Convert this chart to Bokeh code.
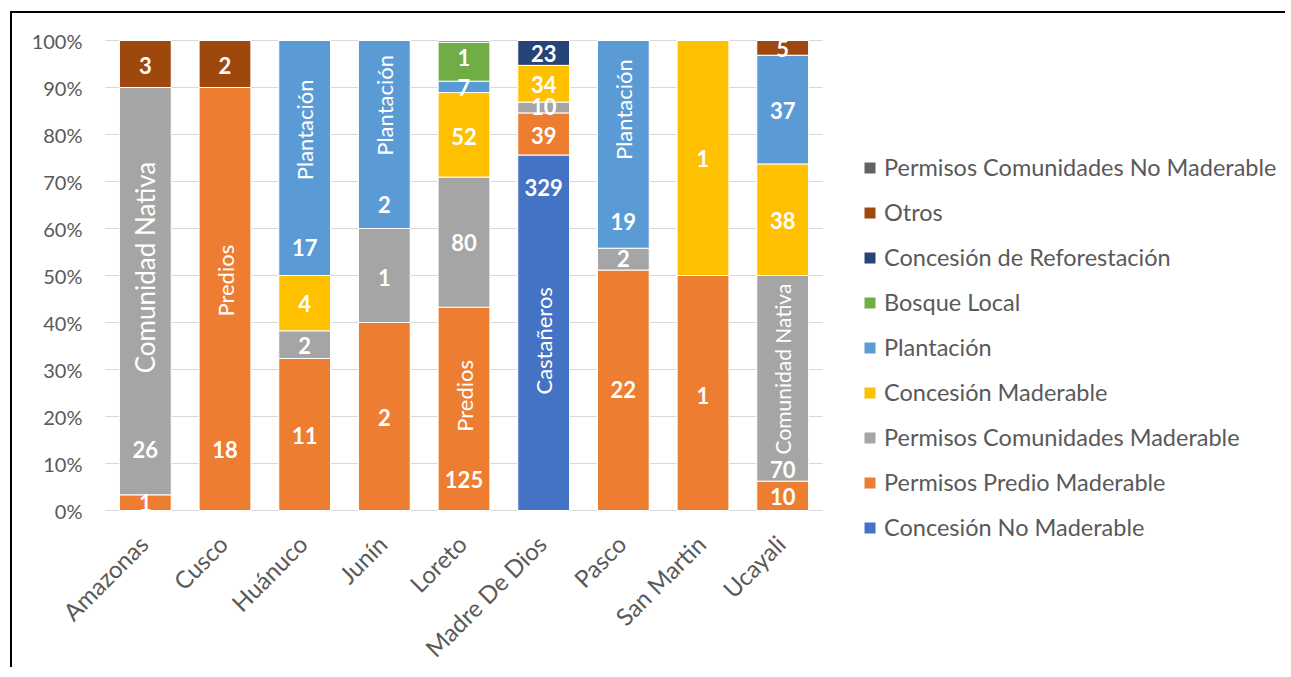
import math
from bokeh.plotting import figure
from bokeh.models import ColumnDataSource, Range1d, Legend, LegendItem
from bokeh.core.properties import value
from bokeh.embed import file_html
from bokeh.resources import INLINE

# ---------------- data ----------------
CATEGORIES = ["Amazonas", "Cusco", "Huánuco", "Junín", "Loreto",
              "Madre De Dios", "Pasco", "San Martin", "Ucayali"]

SERIES = ["Concesión No Maderable", "Permisos Predio Maderable",
          "Permisos Comunidades Maderable", "Concesión Maderable", "Plantación",
          "Bosque Local", "Concesión de Reforestación", "Otros",
          "Permisos Comunidades No Maderable"]

COLORS = ["#4472C4", "#ED7D31", "#A5A5A5", "#FFC000", "#5B9BD5",
          "#70AD47", "#264478", "#9E480E", "#636363"]

# segment sizes
CONC_NO_MAD = [0, 0, 0, 0, 0, 329, 0, 0, 0]
PREDIO_MAD = [1, 18, 11, 2, 125, 39, 22, 1, 10]
COMUN_MAD = [26, 0, 2, 1, 80, 10, 2, 0, 70]
CONC_MAD = [0, 0, 4, 0, 52, 34, 0, 1, 38]
PLANTACION = [0, 0, 17, 2, 7, 0, 19, 0, 37]
BOSQUE_LOCAL = [0, 0, 0, 0, 24, 0, 0, 0, 0]
REFOREST = [0, 0, 0, 0, 0, 23, 0, 0, 0]
OTROS = [3, 2, 0, 0, 0, 0, 0, 0, 5]
COMUN_NO_MAD = [0, 0, 0, 0, 1, 0, 0, 0, 0]

# data labels shown in the chart
LBL_CONC_NO_MAD = ["", "", "", "", "", "329", "", "", ""]
LBL_PREDIO_MAD = ["1", "18", "11", "2", "125", "39", "22", "1", "10"]
LBL_COMUN_MAD = ["26", "", "2", "1", "80", "10", "2", "", "70"]
LBL_CONC_MAD = ["", "", "4", "", "52", "34", "", "1", "38"]
LBL_PLANTACION = ["", "", "17", "2", "7", "", "19", "", "37"]
LBL_BOSQUE_LOCAL = ["", "", "", "", "1", "", "", "", ""]
LBL_REFOREST = ["", "", "", "", "", "23", "", "", ""]
LBL_OTROS = ["3", "2", "", "", "", "", "", "", "5"]
LBL_COMUN_NO_MAD = ["", "", "", "", "", "", "", "", ""]

# category notes written inside bars
NOTE_CATS = ["Amazonas", "Cusco", "Huánuco", "Junín", "Loreto",
             "Madre De Dios", "Pasco", "Ucayali"]
NOTE_TEXT = ["Comunidad Nativa", "Predios", "Plantación", "Plantación", "Predios",
             "Castañeros", "Plantación", "Comunidad Nativa"]

Y_TICKS = [0, 10, 20, 30, 40, 50, 60, 70, 80, 90, 100]
Y_TICK_LABELS = ["0%", "10%", "20%", "30%", "40%", "50%", "60%", "70%", "80%", "90%", "100%"]

# label placement (percent of bar height)
POS_CONC_NO_MAD = [0, 0, 0, 0, 0, 68.7, 0, 0, 0]
POS_PREDIO_MAD = [1.7, 13.0, 16.0, 19.8, 6.6, 79.8, 25.7, 24.5, 3.0]
POS_COMUN_MAD = [13.0, 0, 35.1, 49.6, 57.0, 86.0, 53.6, 0, 8.7]
POS_CONC_MAD = [0, 0, 44.0, 0, 79.6, 90.6, 0, 74.9, 61.7]
POS_PLANTACION = [0, 0, 56.0, 65.1, 90.0, 0, 61.5, 0, 85.1]
POS_BOSQUE_LOCAL = [0, 0, 0, 0, 96.4, 0, 0, 0, 0]
POS_REFOREST = [0, 0, 0, 0, 0, 97.2, 0, 0, 0]
POS_OTROS = [94.7, 94.7, 0, 0, 0, 0, 0, 0, 98.3]
POS_COMUN_NO_MAD = [0, 0, 0, 0, 0, 0, 0, 0, 0]
NOTE_POS = [51.7, 48.9, 81.0, 86.2, 24.4, 36.1, 85.3, 30.1]
NOTE_SIZE = ["26px", "22px", "22px", "22px", "22px", "22px", "22px", "21px"]

VALUES = [CONC_NO_MAD, PREDIO_MAD, COMUN_MAD, CONC_MAD, PLANTACION,
          BOSQUE_LOCAL, REFOREST, OTROS, COMUN_NO_MAD]
LABELS = [LBL_CONC_NO_MAD, LBL_PREDIO_MAD, LBL_COMUN_MAD, LBL_CONC_MAD, LBL_PLANTACION,
          LBL_BOSQUE_LOCAL, LBL_REFOREST, LBL_OTROS, LBL_COMUN_NO_MAD]
POSITIONS = [POS_CONC_NO_MAD, POS_PREDIO_MAD, POS_COMUN_MAD, POS_CONC_MAD, POS_PLANTACION,
             POS_BOSQUE_LOCAL, POS_REFOREST, POS_OTROS, POS_COMUN_NO_MAD]

# ---------------- layout constants (pixels) ----------------
FONT = "Lato"
TXT = "#595959"
W, H = 1275, 656
LEFT_PAD, TOP_PAD = 93, 27    # offset of the bar area inside the canvas
PLOT_W, PLOT_H = 717, 470     # width of the bar area and height of 0-100 %
n = len(CATEGORIES)
px_per_cat = PLOT_W / n
px_per_pct = PLOT_H / 100.0
x_start = -0.5 - LEFT_PAD / px_per_cat
x_end = x_start + W / px_per_cat
y_end = 100 + TOP_PAD / px_per_pct
y_start = y_end - H / px_per_pct

# ---------------- build ----------------
idx = list(range(n))
totals = [sum(v[i] for v in VALUES) for i in idx]
shares = {f"s{k}": [v[i] / totals[i] * 100 for i in idx] for k, v in enumerate(VALUES)}
src = ColumnDataSource(dict(x=idx, **shares))
cat_index = {c: i for i, c in enumerate(CATEGORIES)}

p = figure(x_range=Range1d(x_start, x_end), y_range=Range1d(y_start, y_end),
           width=W, height=H, output_backend="svg", toolbar_location=None,
           min_border_left=0, min_border_top=0, min_border_bottom=0,
           min_border_right=0, x_axis_location=None, y_axis_location=None)
p.styles = {"border-left": "2px solid black", "border-top": "2px solid black",
            "margin-left": "10px", "margin-top": "11px"}
p.grid.grid_line_color = None
p.outline_line_color = None

# gridlines over the bar area only
p.segment(x0=[-0.5] * len(Y_TICKS), x1=[n - 0.5] * len(Y_TICKS), y0=Y_TICKS, y1=Y_TICKS,
          line_color="#D9D9D9", line_width=1)

# y tick labels
p.text(x=[-0.5] * len(Y_TICKS), y=Y_TICKS, text=Y_TICK_LABELS, x_offset=-23,
       text_color=TXT, text_font=value(FONT), text_font_size="20px",
       text_align="right", text_baseline="middle")

renderers = p.vbar_stack(list(shares.keys()), x="x", width=0.65, source=src,
                         fill_color=COLORS, line_color="white", line_width=1)

# numeric labels
lx, ly, lt = [], [], []
for k in range(len(VALUES)):
    for i in idx:
        if LABELS[k][i]:
            lx.append(i)
            ly.append(POSITIONS[k][i])
            lt.append(LABELS[k][i])
p.text(x=lx, y=ly, text=lt, text_color="white", text_font=value(FONT),
       text_font_style="bold", text_font_size="22px", text_align="center",
       text_baseline="middle")

# rotated notes
p.text(x=[cat_index[c] for c in NOTE_CATS], y=NOTE_POS, text=NOTE_TEXT, angle=math.pi / 2,
       text_color="white", text_font=value(FONT), text_font_size=NOTE_SIZE,
       text_align="center", text_baseline="middle")

# category labels (rotated 45 degrees below the bars)
p.text(x=idx, y=[0] * n, text=CATEGORIES, angle=math.pi / 4, x_offset=-2, y_offset=29,
       text_color=TXT, text_font=value(FONT), text_font_size="24px",
       text_align="right", text_baseline="middle")

# legend (reverse of stacking order)
legend = Legend(items=[LegendItem(label=SERIES[k], renderers=[renderers[k]])
                       for k in reversed(range(len(SERIES)))],
                location=(850, 127), orientation="vertical")
legend.label_text_font = FONT
legend.label_text_font_size = "23.5px"
legend.label_text_color = TXT
legend.glyph_width = 15
legend.glyph_height = 15
legend.label_height = 30
legend.spacing = 15
legend.padding = 10
legend.margin = 0
legend.label_standoff = 7
legend.border_line_color = None
legend.background_fill_alpha = 0
p.add_layout(legend)

open("out.html", "w").write(file_html(p, INLINE))
